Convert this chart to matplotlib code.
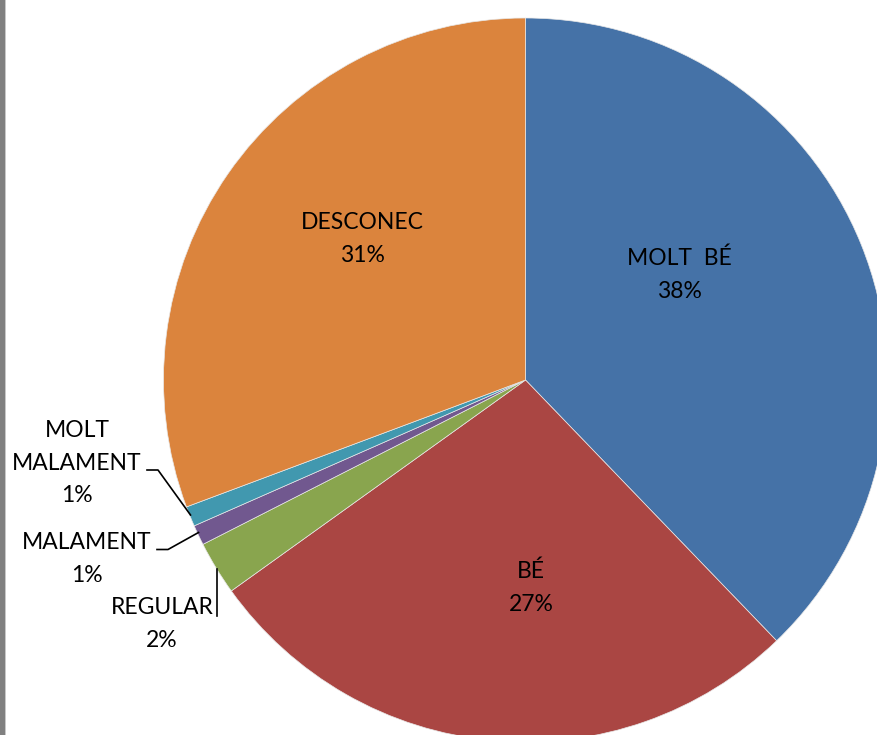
import matplotlib
matplotlib.use("Agg")
import matplotlib.pyplot as plt
from matplotlib.patches import Rectangle

categories = ["MOLT  BÉ", "BÉ", "REGULAR", "MALAMENT", "MOLT\nMALAMENT", "DESCONEC"]
values = [37.8, 27.3, 2.4, 0.9, 0.9, 30.7]
colors = ["#4572A7", "#AA4643", "#89A54E", "#71588F", "#4198AF", "#DB843D"]

W, H = 877, 735
fig = plt.figure(figsize=(W / 100, H / 100), dpi=100)
ax = fig.add_axes([0, 0, 1, 1])

cx, cy, r = 525.5, H - 380, 362
wedges, _ = ax.pie(values, colors=colors, startangle=90, counterclock=False,
                   center=(cx, cy), radius=r,
                   wedgeprops=dict(edgecolor="#e8e8e8", linewidth=0.5))
ax.set_xlim(0, W)
ax.set_ylim(0, H)
ax.set_aspect("auto")
ax.axis("off")

total = sum(values)
pct = [f"{round(v / total * 100):d}%" for v in values]

font = dict(family=["Lato", "DejaVu Sans"], fontsize=16.5, color="black",
            ha="center", va="center", linespacing=1.7)

# label positions (pixel coords from top-left)
label_pos = [(679, 275), (531, 588), (162, 624), (87, 559), (77, 463), (362, 239)]
for name, p, (x, y) in zip(categories, pct, label_pos):
    ax.text(x, H - y, f"{name}\n{p}", **font)

# leader lines
ax.plot([147, 158, 190.5], [H - 470, H - 470, H - 515], color="black", lw=1.2)
ax.plot([157, 168, 198.5], [H - 549.5, H - 549.5, H - 532.5], color="black", lw=1.2)
ax.plot([217, 217], [H - 569, H - 616], color="black", lw=1.2)

# left grey border strip
fig.patches.append(Rectangle((0, 0), 5 / W, 1, transform=fig.transFigure,
                             facecolor="#808080", edgecolor="none"))
fig.patches.append(Rectangle((5 / W, 0), 1 / W, 1, transform=fig.transFigure,
                             facecolor="#c8c8c8", edgecolor="none"))

fig.savefig("out.png", dpi=100)
